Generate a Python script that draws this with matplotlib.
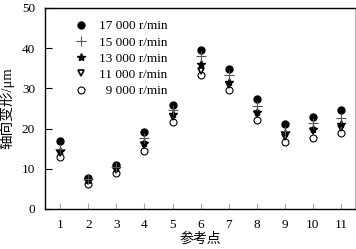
import matplotlib
matplotlib.use("Agg")
import matplotlib.pyplot as plt

plt.rcParams['font.family'] = ['Liberation Serif', 'Noto Sans CJK SC']
plt.rcParams['mathtext.fontset'] = 'stix'

points = [1, 2, 3, 4, 5, 6, 7, 8, 9, 10, 11]
s17000 = [16.9, 7.8, 10.9, 19.2, 25.9, 39.6, 34.7, 27.3, 21.1, 22.8, 24.5]
s15000 = [15.0, 7.4, 10.5, 17.6, 24.6, 38.1, 33.3, 25.7, 19.5, 21.3, 22.6]
s13000 = [14.3, 7.1, 10.2, 16.5, 23.6, 36.1, 31.7, 24.0, 18.8, 19.9, 21.1]
s11000 = [14.0, 6.9, 9.8, 16.0, 22.8, 34.4, 30.8, 23.5, 18.0, 19.5, 20.1]
s9000 = [12.9, 6.3, 8.9, 14.5, 21.7, 33.3, 29.6, 22.1, 16.6, 17.6, 18.8]
labels = ['17 000 r/min', '15 000 r/min', '13 000 r/min', '11 000 r/min', '  9 000 r/min']
xticklabels = [str(p) for p in points]
yticks = [0, 10, 20, 30, 40, 50]

fig = plt.figure(figsize=(3.56, 2.49), dpi=100)
ax = fig.add_axes([0.126, 0.161, 0.871, 0.807])

ax.plot(points, s17000, 'o', color='black', markersize=5, label=labels[0], zorder=3)
ax.plot(points, s15000, '+', color='#555555', markersize=7, markeredgewidth=0.8, label=labels[1], zorder=4)
ax.plot(points, s13000, '*', color='black', markersize=6, label=labels[2], zorder=3)
ax.plot(points, s11000, 'v', color='black', markersize=5, markerfacecolor='white', markeredgewidth=1.2, label=labels[3], zorder=2)
ax.plot(points, s9000, 'o', color='black', markersize=5, markerfacecolor='white', markeredgewidth=0.8, label=labels[4], zorder=1)

ax.set_xlim(0.45, 11.5)
ax.set_ylim(0, 50)
ax.set_xticks(points)
ax.set_xticklabels(xticklabels)
ax.set_yticks(yticks)
ax.tick_params(axis='y', direction='in', length=5, width=0.8, color='black', labelsize=9.5, pad=7)
ax.tick_params(axis='x', direction='in', length=4, width=0.8, color='#aaaaaa', labelsize=9.5, pad=7)
for side in ['left', 'bottom', 'top']:
    ax.spines[side].set_color('black')
    ax.spines[side].set_linewidth(1.0)
ax.spines['right'].set_color('#bbbbbb')
ax.spines['right'].set_linewidth(0.8)

ax.set_xlabel('参考点', fontsize=10, labelpad=1)
ax.set_ylabel('轴向变形/μm', fontsize=10.5, labelpad=5)

ax.legend(loc='upper left', bbox_to_anchor=(0.065, 0.985), frameon=False, fontsize=9.5,
          handlelength=1.0, handletextpad=0.9, labelspacing=0.3, borderpad=0.2)

fig.savefig('out.png', dpi=100)
